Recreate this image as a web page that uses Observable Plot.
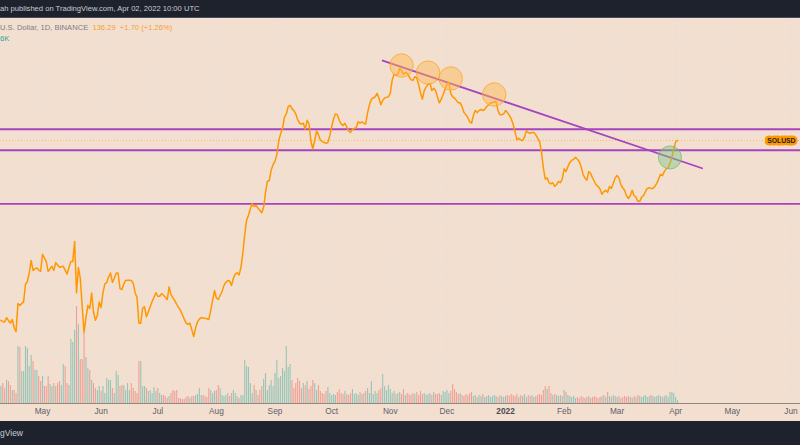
<!DOCTYPE html>
<html><head><meta charset="utf-8">
<script src="https://cdn.jsdelivr.net/npm/d3@7"></script>
<script src="https://cdn.jsdelivr.net/npm/@observablehq/plot@0.6"></script>
<style>
html,body{margin:0;padding:0;background:#1e222d;}
#wrap{position:relative;width:800px;height:445px;overflow:hidden;background:#1e222d;font-family:"Liberation Sans",Arial,sans-serif;}
#hdr{position:absolute;left:0;top:0;width:800px;height:17px;border-bottom:1px solid #4a4e5a;color:#c9ccd4;font-size:7.6px;line-height:18px;white-space:nowrap;}
#pane{position:absolute;left:0;top:18px;width:800px;height:403px;background:#f2dfd0;overflow:hidden;}
#pane svg{position:absolute;left:0;top:0;}
#legend{position:absolute;left:0;top:4px;font-size:7.6px;line-height:11px;color:#7a7d88;white-space:nowrap;z-index:5;}
#legend .o{color:#f7a030;}
#legend .t{color:#26a69a;}
#ftr{position:absolute;left:0;top:421px;width:800px;height:24px;color:#c9ccd4;font-size:8.5px;line-height:24px;white-space:nowrap;}
</style></head>
<body>
<div id="wrap">
  <div id="hdr">ah published on TradingView.com, Apr 02, 2022 10:00 UTC</div>
  <div id="pane">
    <div id="legend"><div>U.S. Dollar, 1D, BINANCE&nbsp; <span class="o">136.29&nbsp; +1.70 (+1.26%)</span></div><div class="t">6K</div></div>
  </div>
  <div id="ftr">gView</div>
</div>
<script>
// ---- data ----
const startDate = "2021-04-09";
const close = [
29.3,29.0,28.9,30.0,29.2,28.6,29.5,27.5,26.6,33.8,
33.3,33.8,34.3,39.9,40.8,44.0,48.9,44.9,45.5,45.9,
45.0,44.5,51.5,50.0,48.4,44.5,45.5,46.5,44.9,48.0,
47.0,46.1,46.3,46.5,45.0,43.5,46.1,48.4,48.4,57.5,
37.0,46.0,42.0,33.0,26.4,30.0,33.3,32.4,37.0,31.4,
29.3,30.5,34.3,32.7,37.1,40.0,40.5,42.5,43.9,40.5,
42.0,43.9,43.9,38.4,38.1,40.0,41.2,41.3,41.3,41.2,
40.2,37.1,35.7,28.6,28.6,32.5,32.9,30.2,31.5,32.9,
34.4,35.7,37.1,36.0,36.0,36.8,36.3,35.7,35.0,39.0,
36.5,35.5,34.7,33.6,32.7,31.9,30.8,29.6,28.6,28.3,
28.6,27.0,25.5,27.5,28.9,29.6,30.0,29.9,29.8,29.7,
29.5,31.9,34.7,37.8,35.5,35.0,36.3,37.5,39.5,40.5,
41.2,41.0,39.5,42.0,43.5,44.0,43.2,46.0,52.0,61.0,
69.0,72.0,76.0,79.5,77.5,78.0,76.5,75.0,73.5,77.0,
87.3,96.0,96.8,106,111,114,121,136,144.5,151,
166,171,182,184,179,176,171,163,158,157,
158,150,162,157,136,127,136,148,143,137,
135,134,133,134,142,153,164,171,170,162,
157,155,158,153,148,146,150,151,152,160,
158,160,158,157,173,185,194,196,198,204,
196,185,192,196,197,198,204,228,240,238,
240,252,248,240,244,242,235,229,228,235,
233,220,205,194,209,215,220,222,209,213,
209,197,188,194,202,211,220,224,204,198,
196,192,188,188,182,173,170,166,160,158,
169,176,173,176,178,176,178,182,185,188,
188,190,190,176,170,170,171,176,173,169,
164,157,147,137,139,137,136,140,148,146,
145,146,146,143,139,135,124,108,98,99,
95,94,95,92,93.5,96,95,98,107,104.5,
109,113,115,116,118,116,114,109,102,99,
97,104.5,103,99,96,93,92,90,86,88,
89,87.5,92,90.5,94.5,99,101,99,93.5,91,
89,85,83,85,89,85,84,81,81,84,
85,88,90.5,91,90.5,90.5,92,94.5,98,102,
101,104.5,107,108,112,118,127,134.59,136.29
];
// daily volume (x100K SOL)
const volume = [
17,20,15,23,22,18,13,13,10,
57,56,32,32,57,55,37,48,42,33,33,27,22,27,17,17,27,19,17,20,17,20,22,18,39,37,20,18,64,61,73,97,79,44,44,70,46,35,33,23,20,15,13,
17,12,17,10,25,23,23,15,10,32,28,17,18,18,13,20,13,20,15,12,10,
42,42,
17,17,15,12,13,10,16,12,15,10,8,8,7,5,7,10,13,12,13,5,5,4,4,6,7,5,7,7,8,9,15,8,8,7,6,15,13,10,12,13,18,15,8,7,8,10,7,10,13,10,7,5,8,8,
43,37,36,
20,10,18,13,8,13,17,24,30,13,18,23,17,30,43,25,27,35,32,
57,
36,39,23,15,20,25,22,
15,20,18,22,14,17,23,20,13,18,12,10,9,12,16,10,8,9,8,11,14,10,9,12,9,8,10,14,9,10,8,11,9,10,12,15,10,22,9,12,10,13,15,29,17,13,18,14,10,12,9,10,11,
9,14,8,10,9,8,10,9,11,8,
12,9,10,8,9,10,8,11,9,9,
10,8,12,11,13,10,12,19,14,11,
9,10,8,7,9,8,10,11,7,8,
6,8,7,9,6,7,8,6,7,8,
7,6,8,7,6,7,8,7,9,8,
7,9,6,8,7,9,6,8,7,8,
6,7,8,9,8,13,17,14,17,10,
8,9,8,7,8,7,13,11,8,7,
6,7,5,6,5,7,6,5,6,7,
5,6,7,6,5,6,7,8,6,11,
7,6,8,7,6,7,5,6,7,6,
7,6,5,7,6,8,7,6,7,8,
6,7,8,7,6,7,8,7,6,7,
8,6,11,11,10,6,3
];
const monthTicks = ["2021-05-01","2021-06-01","2021-07-01","2021-08-01","2021-09-01","2021-10-01","2021-11-01","2021-12-01","2022-01-01","2022-02-01","2022-03-01","2022-04-01","2022-05-01","2022-06-01"];
const monthLabels = ["May","Jun","Jul","Aug","Sep","Oct","Nov","Dec","2022","Feb","Mar","Apr","May","Jun"];
const gridPrices = [310,256,211,176,146,121,100,83,69,57,47,39,32,27,22,18,15];
const levelPrices = [150, 125.4, 79.3];
const lastPrice = 136.29;
const symbolName = "SOLUSD";
const trendDates = ["2021-10-28","2022-04-15"];
const trendPrices = [270, 107.5];
const peakDates = ["2021-11-07","2021-11-21","2021-12-03","2021-12-26"];
const peakPrices = [258.7, 243.5, 231.6, 201.9];
const breakoutDates = ["2022-03-29"];
const breakoutPrices = [117.9];

// ---- build ----
const DAY = 86400000;
const t0 = Date.parse(startDate + "T00:00:00Z");
const series = close.map((c, i) => ({date: new Date(t0 + i * DAY), close: c, vol: volume[i], up: i === 0 || c >= close[i - 1]}));
const ticks = monthTicks.map((d, i) => ({date: new Date(d + "T00:00:00Z"), label: monthLabels[i], year: /^\d{4}$/.test(monthLabels[i])}));
const trend = trendDates.map((d, i) => ({date: new Date(d + "T00:00:00Z"), price: trendPrices[i]}));
const peaks = peakDates.map((d, i) => ({date: new Date(d + "T00:00:00Z"), price: peakPrices[i]}));
const breakout = breakoutDates.map((d, i) => ({date: new Date(d + "T00:00:00Z"), price: breakoutPrices[i]}));

const xCfg = {type: "utc", domain: [new Date(t0 - 0.22 * DAY), new Date(t0 + 423.06 * DAY)], range: [0, 800], axis: null};
const yCfg = {type: "log", domain: [20, 300], range: [346.5, 29.7], axis: null};
const base = {width: 800, height: 403, marginTop: 0, marginLeft: 0, marginRight: 0, marginBottom: 18,
  style: {background: "transparent", overflow: "visible", fontFamily: "Liberation Sans, Arial, sans-serif"}};

const gridColor = "#ebe0d8";
const layerA = Plot.plot({...base, x: xCfg, y: yCfg, marks: [
  Plot.ruleY(gridPrices, {stroke: gridColor, strokeWidth: 1}),
  Plot.ruleX(ticks, {x: "date", stroke: gridColor, strokeWidth: 1}),
  Plot.frame({anchor: "bottom", stroke: "#8f8983", strokeWidth: 1}),
  Plot.text(ticks.filter(d => !d.year), {x: "date", text: "label", frameAnchor: "bottom", lineAnchor: "top", dy: 5, fontSize: 8.3, fill: "#5d606b"}),
  Plot.text(ticks.filter(d => d.year), {x: "date", text: "label", frameAnchor: "bottom", lineAnchor: "top", dy: 5, fontSize: 8.3, fontWeight: "bold", fill: "#4a4d57"})
]});
const layerV = Plot.plot({...base, x: xCfg, y: {domain: [0, 100], range: [385, 285], axis: null}, marks: [
  Plot.ruleX(series, {x: "date", y1: 0, y2: "vol", stroke: d => d.up ? "#26a69a" : "#ef5350", strokeOpacity: 0.45, strokeWidth: 1.1})
]});
const layerB = Plot.plot({...base, x: xCfg, y: yCfg, marks: [
  Plot.ruleY([lastPrice], {stroke: "#ffab50", strokeOpacity: 0.8, strokeDasharray: "1,2", strokeWidth: 1}),
  Plot.ruleY(levelPrices, {stroke: "#a843bf", strokeWidth: 1.9}),
  Plot.line(trend, {x: "date", y: "price", stroke: "#a843bf", strokeWidth: 1.8}),
  Plot.line(series, {x: "date", y: "close", stroke: "#ff9800", strokeWidth: 1.5}),
  Plot.dot(peaks, {x: "date", y: "price", r: 11.7, fill: "#ffb74d", fillOpacity: 0.45, stroke: "#ffa726", strokeOpacity: 0.8, strokeWidth: 1}),
  Plot.dot(breakout, {x: "date", y: "price", r: 11.5, fill: "#81c784", fillOpacity: 0.45, stroke: "#66bb6a", strokeOpacity: 0.7, strokeWidth: 1}),
  Plot.text([lastPrice], {y: d => d, text: () => symbolName, frameAnchor: "right", textAnchor: "end", dx: -5, fontSize: 6.8, fontWeight: "bold", fill: "#1e1e1e", stroke: "#ff9800", strokeWidth: 5, strokeLinejoin: "round", paintOrder: "stroke"})
]});
const pane = document.getElementById("pane");
const legend = document.getElementById("legend");
pane.insertBefore(layerA, legend);
pane.insertBefore(layerV, legend);
pane.insertBefore(layerB, legend);
</script>
</body></html>
